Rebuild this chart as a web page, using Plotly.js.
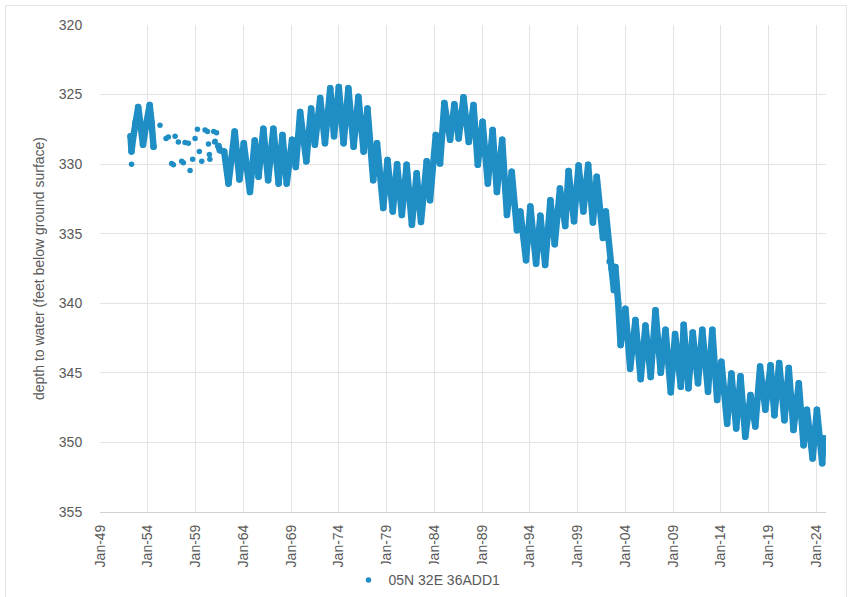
<!DOCTYPE html>
<html>
<head>
<meta charset="utf-8">
<script src="https://cdn.plot.ly/plotly-3.0.1.min.js"></script>
<style>
  html, body { margin: 0; padding: 0; background: #ffffff; }
  #frame { position: absolute; left: 5px; top: 5px; width: 842px; height: 600px; border: 1px solid #e4e4e4; box-sizing: border-box; pointer-events: none; }
  #chart { position: absolute; left: 0; top: 0; width: 854px; height: 597px; }
  #chart path.js-line { stroke-linejoin: round !important; stroke-linecap: round !important; }
</style>
</head>
<body>
<div id="chart"></div>
<div id="frame"></div>
<script>
// ---- Data (decimal year, depth in feet) ----
const seriesName = "05N 32E 36ADD1";

// Sparse / isolated readings
const sparseYears = [1952.3, 1955.28, 1955.91, 1956.15, 1956.5, 1956.68, 1956.86, 1957.2, 1957.55, 1957.73,
  1957.9, 1958.25, 1958.43, 1958.7, 1958.95, 1959.2, 1959.4, 1959.65, 1960.0, 1960.25,
  1960.35, 1960.45, 1960.5, 1960.9, 1961.0, 1961.05, 1961.2];
const sparseDepths = [330.0, 327.2, 328.15, 328.05, 329.95, 330.05, 328.0, 328.4, 329.8, 329.9,
  328.45, 328.5, 330.45, 329.65, 328.15, 327.5, 329.1, 329.8, 327.55, 327.65,
  328.55, 329.3, 329.65, 327.65, 328.4, 328.35, 327.75];

// Early frequent record 1952-1955
const earlyYears = [1952.2, 1952.3, 1952.45, 1952.7, 1953.0, 1953.25, 1953.5, 1953.8, 1954.2, 1954.4, 1954.6];
const earlyDepths = [328.0, 329.1, 328.2, 327.0, 325.9, 327.2, 328.6, 327.3, 325.75, 327.0, 328.75];

// Frequent record 1961-2024 (alternating seasonal highs and lows)
const mainYears = [1961.4, 1961.55, 1962.0, 1962.45, 1963.1, 1963.6, 1964.05, 1964.7, 1965.2, 1965.6,
  1966.1, 1966.6, 1967.15, 1967.7, 1968.1, 1968.55, 1969.1, 1969.5, 1969.95, 1970.6,
  1971.1, 1971.5, 1972.05, 1972.55, 1973.1, 1973.5, 1974.0, 1974.5, 1975.0, 1975.55,
  1976.05, 1976.6, 1977.0, 1977.6, 1978.0, 1978.65, 1979.1, 1979.65, 1980.1, 1980.6,
  1981.1, 1981.65, 1982.15, 1982.6, 1983.2, 1983.55, 1984.15, 1984.6, 1985.05, 1985.65,
  1986.1, 1986.55, 1987.05, 1987.6, 1988.1, 1988.55, 1989.05, 1989.6, 1990.1, 1990.55,
  1991.1, 1991.6, 1992.1, 1992.65, 1993.0, 1993.6, 1994.05, 1994.65, 1995.1, 1995.6,
  1996.15, 1996.6, 1997.15, 1997.7, 1998.05, 1998.62, 1999.1, 1999.6, 2000.1, 2000.6,
  2001.0, 2001.65, 2001.95, 2002.35, 2002.55, 2002.8, 2002.95, 2003.25, 2003.5, 2004.0,
  2004.5, 2005.05, 2005.6, 2006.1, 2006.65, 2007.15, 2007.7, 2008.2, 2008.75, 2009.2,
  2009.8, 2010.1, 2010.6, 2011.05, 2011.6, 2012.05, 2012.65, 2013.1, 2013.6, 2014.05,
  2014.65, 2015.1, 2015.6, 2016.05, 2016.55, 2017.1, 2017.6, 2018.1, 2018.65, 2019.2,
  2019.6, 2020.1, 2020.65, 2021.1, 2021.6, 2022.15, 2022.65, 2023.0, 2023.6, 2024.05,
  2024.6, 2024.75];
const mainDepths = [328.7, 329.0, 329.1, 331.4, 327.65, 331.1, 328.5, 332.0, 328.3, 330.9,
  327.45, 331.15, 327.45, 331.4, 327.9, 331.4, 328.25, 330.2, 326.25, 329.8,
  326.0, 328.6, 325.25, 328.5, 324.55, 328.0, 324.45, 328.5, 324.55, 328.75,
  325.15, 329.1, 326.0, 331.15, 328.5, 333.15, 329.7, 333.4, 330.0, 333.65,
  330.05, 334.35, 330.65, 334.15, 329.8, 332.6, 327.9, 329.95, 325.6, 328.25,
  325.7, 328.15, 325.2, 328.4, 325.75, 330.05, 326.95, 331.4, 327.55, 332.0,
  328.25, 333.65, 330.55, 334.75, 333.4, 336.9, 333.05, 337.15, 333.7, 337.25,
  332.6, 335.75, 331.75, 334.45, 330.5, 334.1, 330.1, 333.4, 330.05, 334.2,
  330.9, 335.3, 333.4, 337.0, 337.5, 339.05, 337.4, 340.0, 343.0, 340.4,
  344.7, 341.2, 345.45, 341.6, 345.3, 340.5, 345.0, 341.9, 346.4, 342.2,
  346.0, 341.55, 346.1, 342.1, 345.75, 341.9, 346.35, 341.9, 346.95, 344.2,
  348.65, 345.05, 349.0, 345.25, 349.6, 346.6, 348.85, 344.55, 347.65, 344.45,
  348.05, 344.3, 348.4, 344.65, 349.1, 345.75, 350.2, 347.65, 351.15, 347.65,
  351.5, 349.7];

// Axis ticks
const xTickVals = [1949, 1954, 1959, 1964, 1969, 1974, 1979, 1984, 1989, 1994, 1999, 2004, 2009, 2014, 2019, 2024];
const xTickText = ["Jan-49", "Jan-54", "Jan-59", "Jan-64", "Jan-69", "Jan-74", "Jan-79", "Jan-84",
  "Jan-89", "Jan-94", "Jan-99", "Jan-04", "Jan-09", "Jan-14", "Jan-19", "Jan-24"];
const yTickVals = [320, 325, 330, 335, 340, 345, 350, 355];
const yTitle = "depth to water (feet below ground surface)";

// ---- Styling ----
const blue = "#1f8ec5";
const gridCol = "#e3e3e3";
const textCol = "#595959";
const fontFam = "Liberation Sans, Arial, sans-serif";

const traces = [
  {
    type: "scatter", mode: "markers", name: seriesName, legendgroup: "s",
    x: sparseYears, y: sparseDepths,
    marker: { color: blue, size: 5.5 },
    hoverinfo: "x+y"
  },
  {
    type: "scatter", mode: "lines+markers", name: seriesName, legendgroup: "s", showlegend: false,
    x: earlyYears, y: earlyDepths,
    line: { color: blue, width: 6.5 },
    marker: { color: blue, size: 6.5 }
  },
  {
    type: "scatter", mode: "lines+markers", name: seriesName, legendgroup: "s", showlegend: false,
    x: mainYears, y: mainDepths,
    line: { color: blue, width: 6.5 },
    marker: { color: blue, size: 6.5 }
  }
];

const layout = {
  width: 854, height: 597,
  margin: { l: 100, r: 28, t: 25, b: 85 },
  paper_bgcolor: "#ffffff", plot_bgcolor: "#ffffff",
  font: { family: fontFam, color: textCol, size: 14 },
  showlegend: true,
  legend: {
    orientation: "h", xref: "container", yref: "container",
    x: 0.5, xanchor: "center", y: 0.028, yanchor: "middle",
    font: { family: fontFam, size: 14, color: textCol },
    itemwidth: 30
  },
  xaxis: {
    range: [1949, 2025.0],
    tickmode: "array", tickvals: xTickVals, ticktext: xTickText,
    tickangle: -90,
    showgrid: true, gridcolor: gridCol, gridwidth: 1,
    zeroline: false,
    showline: true, linecolor: "#d0d0d0", linewidth: 1,
    ticks: "outside", ticklen: 6, tickcolor: "rgba(0,0,0,0)",
    tickfont: { family: fontFam, size: 14, color: textCol },
    fixedrange: true
  },
  yaxis: {
    range: [355, 320],
    tickmode: "array", tickvals: yTickVals,
    showgrid: true, gridcolor: gridCol, gridwidth: 1,
    zeroline: false, showline: false,
    ticks: "outside", ticklen: 14, tickcolor: "rgba(0,0,0,0)",
    tickfont: { family: fontFam, size: 14, color: textCol },
    title: { text: yTitle, font: { family: fontFam, size: 14, color: textCol }, standoff: 10 },
    automargin: false,
    fixedrange: true
  }
};

Plotly.newPlot("chart", traces, layout, { displayModeBar: false, staticPlot: true });
</script>
</body>
</html>
